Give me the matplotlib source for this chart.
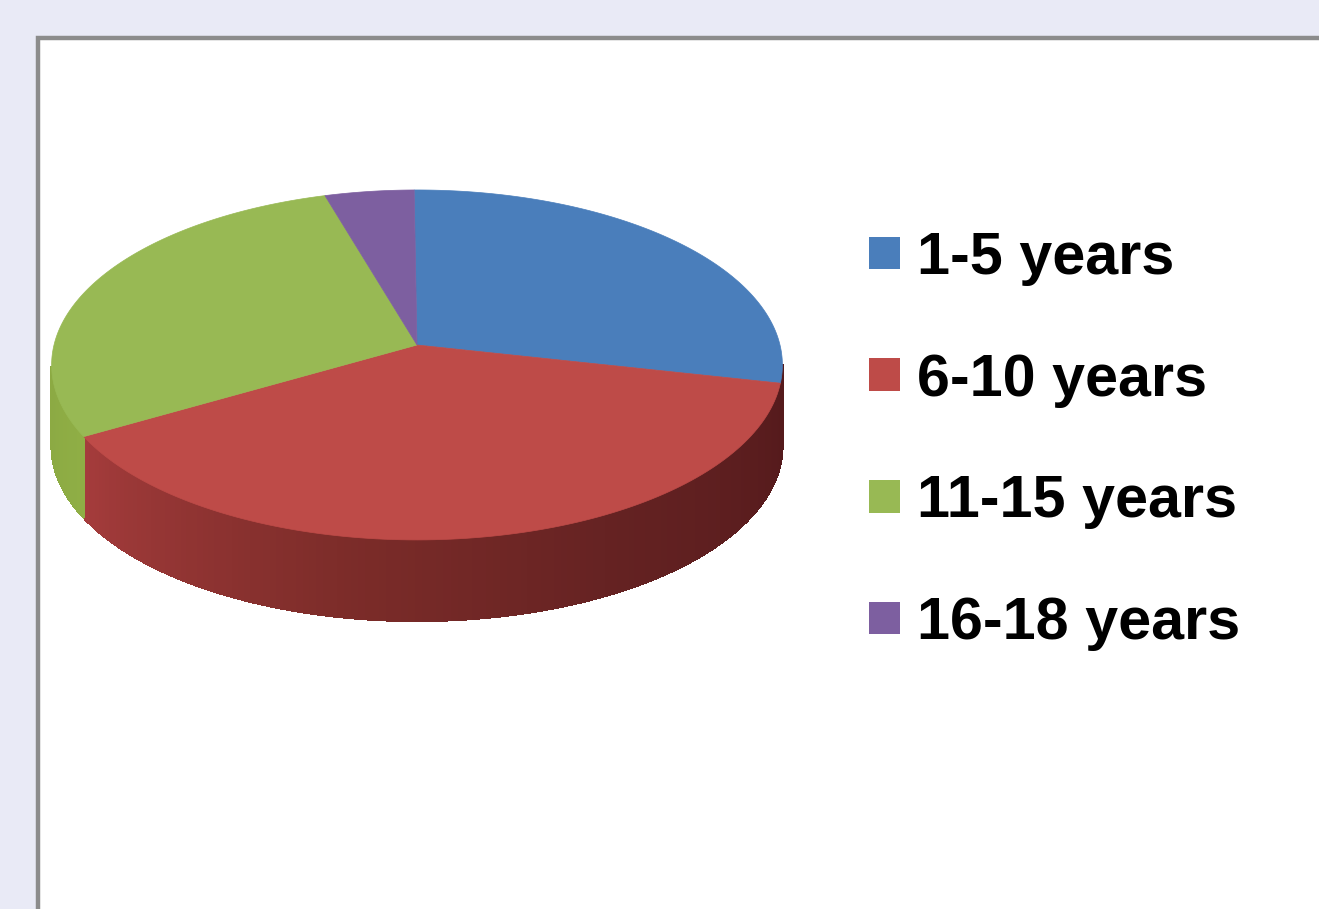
import numpy as np
import matplotlib
matplotlib.use("Agg")
import matplotlib.pyplot as plt
import matplotlib.colors as mcol
from matplotlib.patches import Patch, Rectangle

labels = ["1-5 years", "6-10 years", "11-15 years", "16-18 years"]
shares = [28.6, 38.2, 28.8, 4.4]
face_colors = ["#4a7ebb", "#be4b48", "#98b954", "#7d5fa0"]
# wall shading as (clock angle, colour) stops, one list per slice
wall_stops = [
    ([0, 360], ["#551a1c", "#551a1c"]),
    ([103, 150, 190, 240], ["#551a1c", "#642222", "#7c2c29", "#a53c3c"]),
    ([240, 344], ["#8fae45", "#7f9a3d"]),
    ([0, 360], ["#4a3766", "#4a3766"]),
]

CX, CY = 417, 345
RX, RY = 363, 172.7
PERSP = 0.114
DEPTH = 81
START = -0.5


def project(angle_deg):
    # clock angle on the disc -> picture pixels, far side slightly smaller
    t = np.radians(angle_deg)
    x, y = np.sin(t), np.cos(t)
    w = 1 + PERSP * y
    return CX + RX * x / w, CY - RY * y / w


def to_rgb_stops(cols):
    return np.array([mcol.to_rgb(c) for c in cols])


fig = plt.figure(figsize=(13.19, 9.09), dpi=100, facecolor="#e9eaf6")
ax = fig.add_axes([0, 0, 1, 1])
ax.set_xlim(0, 1319)
ax.set_ylim(909, 0)
ax.axis("off")

ax.add_patch(Rectangle((38, 38), 1400, 1000, facecolor="white",
                       edgecolor="#8c8c8c", linewidth=3.2))

edges = START + np.concatenate([[0], np.cumsum(shares)]) / sum(shares) * 360

# walls first, the top face paints over the hidden part
for i in range(len(shares)):
    a = np.arange(edges[i], edges[i + 1] + 1, 1.0)
    xs, ys = project(a)
    stops, cols = wall_stops[i]
    rgb = to_rgb_stops(cols)
    for j in range(len(a) - 1):
        mid = (a[j] + a[j + 1]) / 2
        if mid < 97 or mid > 263:  # back of the disc, never seen
            continue
        c = [np.interp(mid, stops, rgb[:, k]) for k in range(3)]
        ax.fill([xs[j], xs[j + 1], xs[j + 1], xs[j]],
                [ys[j], ys[j + 1], ys[j + 1] + DEPTH, ys[j] + DEPTH],
                facecolor=c, edgecolor=c, linewidth=1, antialiased=False)

for i in range(len(shares)):
    a = np.linspace(edges[i], edges[i + 1], 120)
    xs, ys = project(a)
    ax.fill(np.r_[CX, xs], np.r_[CY, ys], facecolor=face_colors[i],
            edgecolor=face_colors[i], linewidth=0.5)

handles = [Patch(facecolor=c, edgecolor="none") for c in face_colors]
ax.legend(handles, labels, loc="upper left", bbox_to_anchor=(869, 231),
          bbox_transform=ax.transData, frameon=False, borderpad=0,
          borderaxespad=0, labelspacing=1.125,
          handlelength=0.525, handleheight=0.47, handletextpad=0.29,
          prop={"family": "Liberation Sans", "weight": "bold", "size": 42.7})

fig.savefig("out.png", dpi=100, facecolor=fig.get_facecolor())
